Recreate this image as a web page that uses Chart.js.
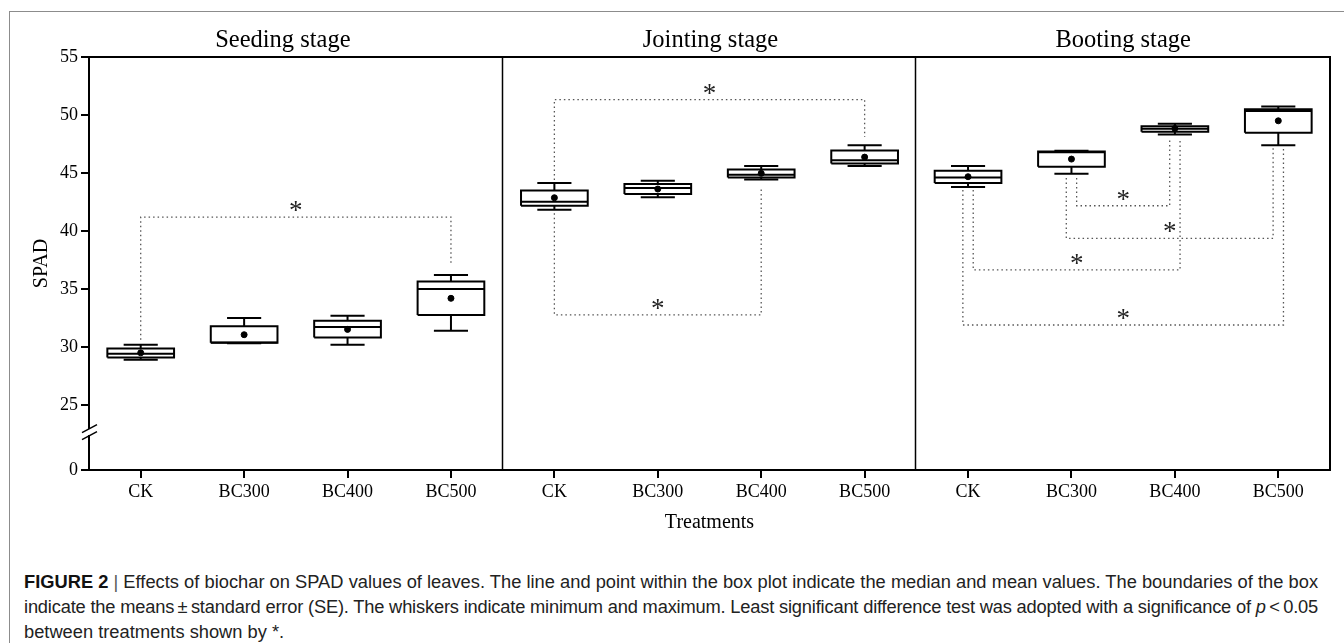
<!DOCTYPE html>
<html>
<head>
<meta charset="utf-8">
<script src="https://cdn.jsdelivr.net/npm/chart.js@4.4.1/dist/chart.umd.min.js"></script>
<style>
  body { margin: 0; background: #fff; }
  #frame { position: absolute; left: 9px; top: 11px; right: 0; bottom: 0; border-left: 1px solid #8c8c8c; border-top: 1px solid #8c8c8c; }
  #wrap { position: absolute; left: 0; top: 0; width: 1344px; height: 560px; }
  #caption { position: absolute; left: 24px; top: 569px; white-space: nowrap;
             font-family: "Liberation Sans", Arial, sans-serif; font-size: 18.3px; line-height: 25px; color: #222; }
  #caption b { color: #111; }
  #caption span.fit { display: inline-block; }
</style>
</head>
<body>
<div id="frame"></div>
<div id="wrap"><canvas id="spadChart"></canvas></div>
<div id="caption">
  <div><span class="fit"><b>FIGURE 2</b> <span style="color:#555">|</span> Effects of biochar on SPAD values of leaves. The line and point within the box plot indicate the median and mean values. The boundaries of the box</span></div>
  <div><span class="fit">indicate the means&#8201;±&#8201;standard error (SE). The whiskers indicate minimum and maximum. Least significant difference test was adopted with a significance of <i>p</i>&#8201;&lt;&#8201;0.05</span></div>
  <div>between treatments shown by *.</div>
</div>
<script>
// categorie (3 stadi x 4 trattamenti)
const stages = ["Seeding stage", "Jointing stage", "Booting stage"];
const treatments = ["CK", "BC300", "BC400", "BC500",
                    "CK", "BC300", "BC400", "BC500",
                    "CK", "BC300", "BC400", "BC500"];

// valori dei box plot
const whiskerMin = [28.9, 30.32, 30.2, 31.4,   41.84, 42.9, 44.45, 45.6,   43.79, 44.94, 48.32, 47.4];
const boxLow     = [29.1, 30.37, 30.83, 32.76, 42.18, 43.19, 44.62, 45.83, 44.14, 45.54, 48.55, 48.46];
const medians    = [29.42, 30.4, 31.72, 35.0,  42.53, 43.7, 44.85, 46.11,  44.62, 46.8, 48.81, 50.35];
const boxHigh    = [29.88, 31.8, 32.26, 35.65, 43.5, 44.05, 45.31, 46.95,  45.2, 46.85, 49.04, 50.5];
const whiskerMax = [30.2, 32.5, 32.7, 36.2,    44.14, 44.33, 45.6, 47.4,   45.6, 46.92, 49.24, 50.73];
const means      = [29.5, 31.06, 31.52, 34.2,  42.87, 43.62, 44.97, 46.37, 44.68, 46.2, 48.84, 49.5];

// asse y spezzato: il primo tick ("0") sta sotto la rottura
const yTickValues = [19.4, 25, 30, 35, 40, 45, 50, 55];
const yTickLabels = ["0", "25", "30", "35", "40", "45", "50", "55"];
const yBreakAt = 22.67;

// confronti significativi (*): indici dei trattamenti, livello della linea, estremi verticali
const sigFrom     = [0, 4, 4, 9, 9, 8, 8];
const sigTo       = [3, 7, 6, 10, 11, 10, 11];
const sigLevel    = [41.2, 51.33, 32.78, 42.18, 39.37, 36.65, 31.9];
const sigFromEnd  = [30.63, 44.39, 41.53, 44.56, 44.56, 43.53, 43.53];
const sigToEnd    = [37.1, 48.1, 43.82, 48.0, 47.15, 48.0, 47.15];
const sigFromSide = [0, 0, 0, 1, -1, 1, -1];
const sigToSide   = [0, 0, 0, -1, -1, 1, 1];

const serif = "'Liberation Serif', 'Times New Roman', serif";
const capHalf = 0.165;   // mezza larghezza dei baffi
const boxHalf = 0.3225;  // mezza larghezza del box
const sideShift = 0.05;  // spostamento delle linee tratteggiate accostate

// le prime due righe della didascalia arrivano fino a x = 1318
document.querySelectorAll("#caption span.fit").forEach(el => {
    const w = el.getBoundingClientRect().width;
    const n = el.textContent.length;
    el.style.letterSpacing = ((1294 - w) / n).toFixed(3) + "px";
});

// rettangoli dei box, baffi e mediane come segmenti separati da null
let boxPts = [];
let whiskerPts = [];
let medianPts = [];
for (let i = 0; i < treatments.length; i++) {
    boxPts.push({x: i - boxHalf, y: boxLow[i]}, {x: i + boxHalf, y: boxLow[i]},
                {x: i + boxHalf, y: boxHigh[i]}, {x: i - boxHalf, y: boxHigh[i]},
                {x: i - boxHalf, y: boxLow[i]}, {x: i, y: null});
    whiskerPts.push({x: i, y: boxHigh[i]}, {x: i, y: whiskerMax[i]}, {x: i, y: null});
    whiskerPts.push({x: i - capHalf, y: whiskerMax[i]}, {x: i + capHalf, y: whiskerMax[i]}, {x: i, y: null});
    whiskerPts.push({x: i, y: boxLow[i]}, {x: i, y: whiskerMin[i]}, {x: i, y: null});
    whiskerPts.push({x: i - capHalf, y: whiskerMin[i]}, {x: i + capHalf, y: whiskerMin[i]}, {x: i, y: null});
    medianPts.push({x: i - boxHalf, y: medians[i]}, {x: i + boxHalf, y: medians[i]}, {x: i, y: null});
}

// linee tratteggiate dei confronti
let bracketPts = [];
let starPos = [];
for (let k = 0; k < sigFrom.length; k++) {
    const x1 = sigFrom[k] + sigFromSide[k] * sideShift;
    const x2 = sigTo[k] + sigToSide[k] * sideShift;
    bracketPts.push({x: x1, y: sigFromEnd[k]}, {x: x1, y: sigLevel[k]},
                    {x: x2, y: sigLevel[k]}, {x: x2, y: sigToEnd[k]}, {x: x2, y: null});
    starPos.push({x: (x1 + x2) / 2, y: sigLevel[k]});
}

// plugin per cornice, divisori dei pannelli, titoli, asterischi e rottura dell'asse
const panelPlugin = {
    id: "panelPlugin",
    beforeDatasetsDraw(chart) {
        const {ctx, chartArea: a, scales} = chart;
        ctx.save();
        ctx.strokeStyle = "#000";
        ctx.lineWidth = 1.5;
        [3.5, 7.5].forEach(v => {
            const px = Math.round(scales.xl.getPixelForValue(v)) - 0.5;
            ctx.beginPath();
            ctx.moveTo(px, a.top);
            ctx.lineTo(px, a.bottom);
            ctx.stroke();
        });
        ctx.restore();
    },
    afterDraw(chart) {
        const {ctx, chartArea: a, scales} = chart;
        ctx.save();
        ctx.strokeStyle = "#000";
        ctx.lineWidth = 2;
        ctx.strokeRect(a.left, a.top, a.right - a.left, a.bottom - a.top);

        // titoli dei pannelli
        ctx.fillStyle = "#000";
        ctx.font = "24.5px " + serif;
        ctx.textAlign = "center";
        ctx.textBaseline = "alphabetic";
        const titleShift = [-13, 1, 0];
        stages.forEach((s, p) => {
            ctx.fillText(s, scales.xl.getPixelForValue(p * 4 + 1.5) + titleShift[p], a.top - 10);
        });

        // asterischi
        ctx.font = "27px " + serif;
        ctx.fillStyle = "#222";
        starPos.forEach(st => {
            ctx.fillText("*", scales.xl.getPixelForValue(st.x), scales.y.getPixelForValue(st.y) + 2);
        });

        // rottura dell'asse y
        const by = scales.y.getPixelForValue(yBreakAt);
        ctx.fillStyle = "#fff";
        ctx.fillRect(a.left - 3, by - 3, 6, 6);
        ctx.strokeStyle = "#000";
        ctx.lineWidth = 1.5;
        ctx.beginPath();
        ctx.moveTo(a.left - 7, by + 7.5);
        ctx.lineTo(a.left + 8, by - 0.5);
        ctx.moveTo(a.left - 7, by + 0.5);
        ctx.lineTo(a.left + 8, by - 7.5);
        ctx.stroke();
        ctx.restore();
    }
};

const lineStyle = {
    type: "line",
    xAxisID: "xl",
    borderColor: "#000",
    borderWidth: 2,
    borderJoinStyle: "miter",
    pointRadius: 0,
    spanGaps: false,
    fill: false
};

const ctx = document.getElementById("spadChart").getContext("2d");

new Chart(ctx, {
    type: "scatter",
    data: {
        labels: treatments,
        datasets: [
            {
                label: "means",
                type: "scatter",
                xAxisID: "xl",
                data: means.map((m, i) => ({x: i, y: m})),
                pointRadius: 3,
                pointBackgroundColor: "#000",
                pointBorderColor: "#000",
                order: 0
            },
            Object.assign({ label: "medians", data: medianPts, order: 1 }, lineStyle),
            Object.assign({ label: "whiskers", data: whiskerPts, order: 2 }, lineStyle),
            Object.assign({ label: "boxes", data: boxPts, order: 3 }, lineStyle),
            Object.assign({}, lineStyle, {
                label: "brackets",
                data: bracketPts,
                borderColor: "#555",
                borderWidth: 1.3,
                borderDash: [1.5, 3],
                order: 4
            })
        ]
    },
    options: {
        responsive: true,
        maintainAspectRatio: false,
        animation: false,
        layout: { padding: { left: 0, right: 14, top: 57, bottom: 0 } },
        plugins: {
            legend: { display: false },
            tooltip: { enabled: false }
        },
        scales: {
            x: {
                type: "category",
                labels: treatments,
                offset: true,
                grid: { offset: false, drawOnChartArea: false, drawTicks: true, tickLength: 8, color: "#000", lineWidth: 2 },
                border: { display: true, color: "#000", width: 2 },
                ticks: { color: "#000", font: { family: serif, size: 18 }, padding: 3, autoSkip: false, maxRotation: 0 },
                title: { display: true, text: "Treatments", color: "#000", font: { family: serif, size: 20 }, padding: { top: 0, bottom: 25 } },
                afterFit: s => { s.height = 90; }
            },
            xl: {
                type: "linear",
                axis: "x",
                position: "bottom",
                display: false,
                offset: false,
                min: -0.5,
                max: treatments.length - 0.5
            },
            y: {
                type: "linear",
                min: yTickValues[0],
                max: yTickValues[yTickValues.length - 1],
                afterBuildTicks: s => { s.ticks = yTickValues.map(v => ({ value: v })); },
                grid: { drawOnChartArea: false, drawTicks: true, tickLength: 8, color: "#000", lineWidth: 2 },
                border: { display: true, color: "#000", width: 2 },
                ticks: { color: "#000", font: { family: serif, size: 18 }, padding: 3,
                         callback: (v, i) => yTickLabels[i] },
                title: { display: true, text: "SPAD", color: "#000", font: { family: serif, size: 20 }, padding: { top: 30, bottom: 0 } },
                afterFit: s => { s.width = 89; }
            }
        }
    },
    plugins: [panelPlugin]
});
</script>
</body>
</html>
